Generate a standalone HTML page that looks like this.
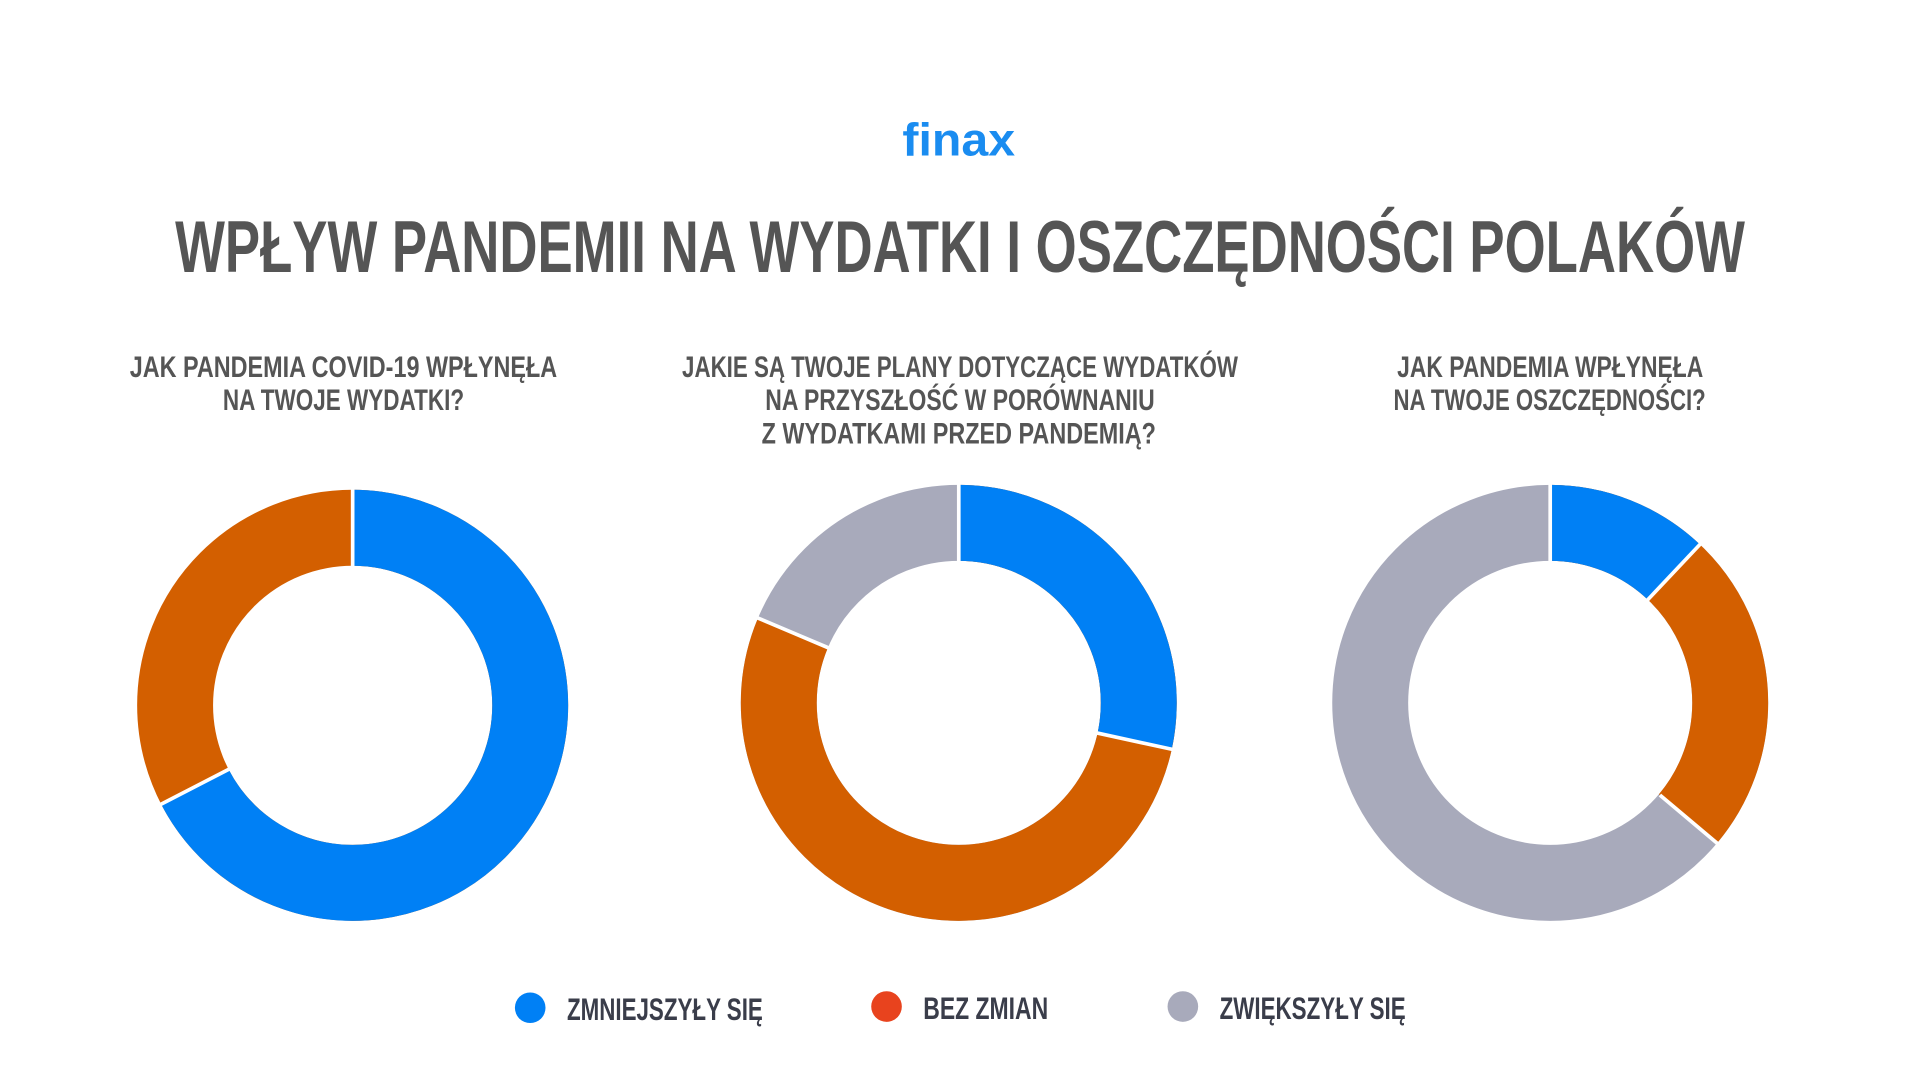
<!DOCTYPE html>
<html><head><meta charset="utf-8"><style>
html,body{margin:0;padding:0;background:#fff;}
svg{display:block;}
.t{font-family:"Liberation Sans Narrow","Liberation Sans",sans-serif;font-weight:bold;}
</style></head><body>
<svg width="1920" height="1080" viewBox="0 0 1568 882" xmlns="http://www.w3.org/2000/svg">
<rect width="1568" height="882" fill="#fff"/>
<text class="t" x="737" y="127" font-size="38" fill="#1a8cf0" textLength="92" lengthAdjust="spacingAndGlyphs" style="font-weight:bold">finax</text>
<text class="t" x="143" y="222" font-size="60" fill="#555555" textLength="1282" lengthAdjust="spacingAndGlyphs">WPŁYW PANDEMII NA WYDATKI I OSZCZĘDNOŚCI POLAKÓW</text>
<g class="t" font-size="24" fill="#555555">
<text x="106" y="308" textLength="349" lengthAdjust="spacingAndGlyphs">JAK PANDEMIA COVID-19 WPŁYNĘŁA</text>
<text x="182" y="335" textLength="197" lengthAdjust="spacingAndGlyphs">NA TWOJE WYDATKI?</text>
<text x="557" y="308" textLength="454" lengthAdjust="spacingAndGlyphs">JAKIE SĄ TWOJE PLANY DOTYCZĄCE WYDATKÓW</text>
<text x="625" y="335" textLength="318" lengthAdjust="spacingAndGlyphs">NA PRZYSZŁOŚĆ W PORÓWNANIU</text>
<text x="622" y="362" textLength="322" lengthAdjust="spacingAndGlyphs">Z WYDATKAMI PRZED PANDEMIĄ?</text>
<text x="1141" y="308" textLength="250" lengthAdjust="spacingAndGlyphs">JAK PANDEMIA WPŁYNĘŁA</text>
<text x="1138" y="335" textLength="255" lengthAdjust="spacingAndGlyphs">NA TWOJE OSZCZĘDNOŚCI?</text>
</g>
<!-- donut 1 -->
<g fill="none" stroke-width="62">
<circle cx="288" cy="576" r="145" stroke="#d35f00"/>
<circle cx="288" cy="576" r="145" stroke="#0080f5" stroke-dasharray="614.1 2000" transform="rotate(-90 288 576)"/>
<circle cx="783" cy="574" r="147" stroke="#a8aabb"/>
<circle cx="783" cy="574" r="147" stroke="#d35f00" stroke-dasharray="751.5 2000" transform="rotate(-90 783 574)"/>
<circle cx="783" cy="574" r="147" stroke="#0080f5" stroke-dasharray="262.5 2000" transform="rotate(-90 783 574)"/>
<circle cx="1266" cy="574" r="147" stroke="#a8aabb"/>
<circle cx="1266" cy="574" r="147" stroke="#d35f00" stroke-dasharray="333.5 2000" transform="rotate(-90 1266 574)"/>
<circle cx="1266" cy="574" r="147" stroke="#0080f5" stroke-dasharray="111.4 2000" transform="rotate(-90 1266 574)"/>
</g>
<g stroke="#fff" stroke-width="3">
<line x1="288" y1="399" x2="288" y2="463"/>
<line x1="187.5" y1="627.9" x2="130.7" y2="657.2"/>
<line x1="783" y1="395" x2="783" y2="459"/>
<line x1="895.3" y1="598.5" x2="957.9" y2="612.1"/>
<line x1="677.1" y1="529.3" x2="618.2" y2="504.4"/>
<line x1="1266" y1="395" x2="1266" y2="459"/>
<line x1="1345" y1="490.5" x2="1389" y2="443.9"/>
<line x1="1355.6" y1="649.3" x2="1403" y2="689.2"/>
</g>
<circle cx="433" cy="823" r="12.5" fill="#0080f5"/>
<circle cx="724" cy="822" r="12.5" fill="#e8431e"/>
<circle cx="966" cy="822" r="12.5" fill="#a8aabb"/>
<g class="t" font-size="26" fill="#3a3d4a">
<text x="463" y="833" textLength="160" lengthAdjust="spacingAndGlyphs">ZMNIEJSZYŁY SIĘ</text>
<text x="754" y="832" textLength="102" lengthAdjust="spacingAndGlyphs">BEZ ZMIAN</text>
<text x="996" y="832" textLength="152" lengthAdjust="spacingAndGlyphs">ZWIĘKSZYŁY SIĘ</text>
</g>
</svg>
</body></html>
